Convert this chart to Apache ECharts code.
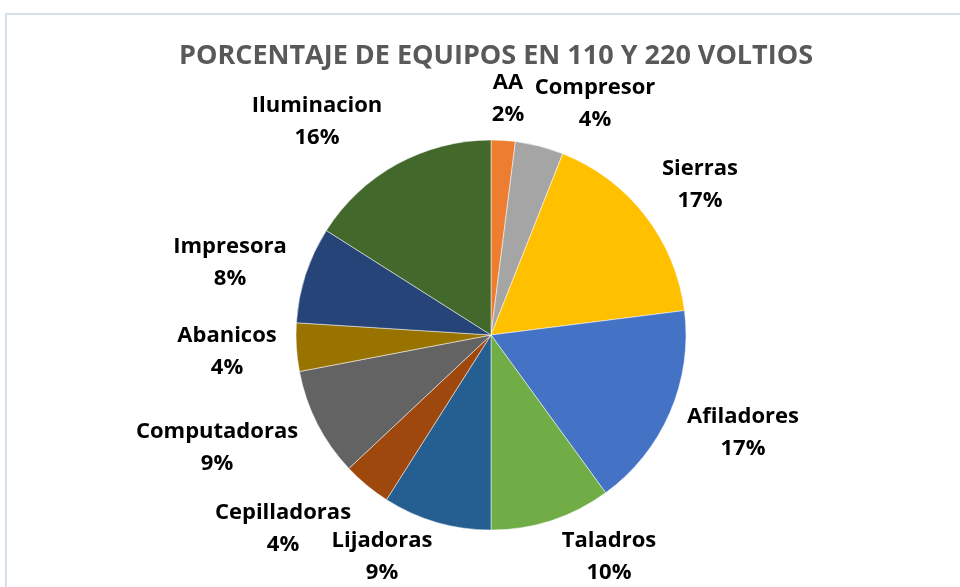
<!DOCTYPE html>
<html lang="es">
<head>
    <meta charset="utf-8">
    <title>Porcentaje de equipos</title>
    <script src="https://cdn.jsdelivr.net/npm/echarts@6/dist/echarts.min.js"></script>
</head>
<body style="margin:0; background:#fff;">
<div id="main" style="width: 960px; height: 587px;"></div>
<script type="text/javascript">
    // datos (porcentaje por tipo de equipo)
    const categorias = ['AA', 'Compresor', 'Sierras', 'Afiladores', 'Taladros', 'Lijadoras',
        'Cepilladoras', 'Computadoras', 'Abanicos', 'Impresora', 'Iluminacion'];
    const valores = [2, 4, 17, 17, 10, 9, 4, 9, 4, 8, 16];
    const colores = ['#ED7D31', '#A5A5A5', '#FFC000', '#4472C4', '#70AD47', '#255E91',
        '#9E480E', '#636363', '#997300', '#264478', '#43682B'];

    // posicion de cada etiqueta (como la dejo Excel)
    const posEtiquetas = [[508, 99], [595, 104], [700, 185], [743, 433], [609, 557], [382, 557],
        [283, 529], [217, 448], [227, 352], [230, 263], [317, 122]];

    let myChart = echarts.init(document.getElementById('main'));
    const option = {
        animation: false,
        title: {
            text: 'PORCENTAJE DE EQUIPOS EN 110 Y 220 VOLTIOS',
            left: 491,
            top: 38,
            textAlign: 'center',
            textStyle: {
                fontFamily: 'Open Sans',
                fontWeight: 'bold',
                fontSize: 27,
                color: '#595959'
            }
        },
        graphic: [{
            type: 'rect',
            shape: {x: 6, y: 14, width: 1000, height: 700},
            style: {fill: 'none', stroke: '#D5DFEB', lineWidth: 2},
            silent: true
        }],
        series: [{
            type: 'pie',
            center: [491, 335],
            radius: 195,
            startAngle: 90,
            clockwise: true,
            color: colores,
            itemStyle: {borderColor: '#ffffff', borderWidth: 0.5},
            label: {
                show: true,
                position: 'outside',
                formatter: function (p) {
                    return p.name + '\n' + Math.round(p.percent) + '%';
                },
                fontFamily: 'Open Sans',
                fontWeight: 'bold',
                fontSize: 22,
                lineHeight: 32,
                color: '#000000'
            },
            labelLine: {show: false},
            labelLayout: function (params) {
                const p = posEtiquetas[params.dataIndex];
                return {x: p[0], y: p[1], align: 'center', verticalAlign: 'middle'};
            },
            data: categorias.map(function (c, i) {
                return {name: c, value: valores[i]};
            })
        }]
    };
    myChart.setOption(option);
</script>
</body>
</html>
